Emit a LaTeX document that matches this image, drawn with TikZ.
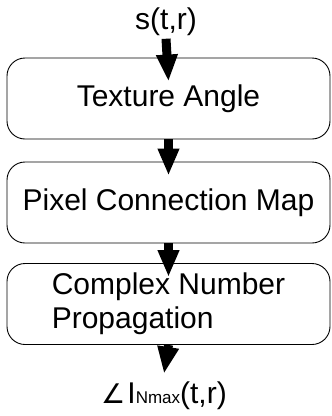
\documentclass[tikz,border=0pt]{standalone}
\usepackage{fontspec}
\setmainfont{Liberation Sans}
\newfontfamily\symfont{DejaVu Sans}
\usetikzlibrary{arrows.meta}

\tikzset{
    block/.style={draw, line width=0.9pt, rounded corners=18pt,
        minimum width=323pt, minimum height=81pt, inner sep=0pt},
    flow/.style={line width=9pt, -{Triangle[length=27pt,width=20pt]}},
    big/.style={font=\fontsize{30}{34}\selectfont}
}

\begin{document}
\begin{tikzpicture}[x=1pt,y=-1pt,big]
        \useasboundingbox (0,0) rectangle (332,416);
        % Eingang
        \node[anchor=base] (sig) at (166,29) {s(t,r)};
        % Bloecke
        \node[block] (tex) at (168.5,98.5) {Texture Angle};
        \node[block] (pcm) at (168.5,202.5) {Pixel Connection Map};
        \node[block, align=left] (cnp) at (168.5,304) {Complex Number\\Propagation};
        % Ausgang
        \node[anchor=base] (out) at (164,403)
            {{\symfont\fontsize{27}{27}\selectfont ∠}\kern2pt I{\fontsize{17}{17}\selectfont Nmax}(t,r)};
        % Pfeile
        \draw[flow] (sig.south) -- ([yshift=-24pt]tex.north);
        \draw[flow] (tex.south) -- ([yshift=-14pt]pcm.north);
        \draw[flow] (pcm.south) -- ([yshift=-14pt]cnp.north);
        \draw[flow] (cnp.south) -- ([yshift=4pt]out.north);
\end{tikzpicture}
\end{document}
